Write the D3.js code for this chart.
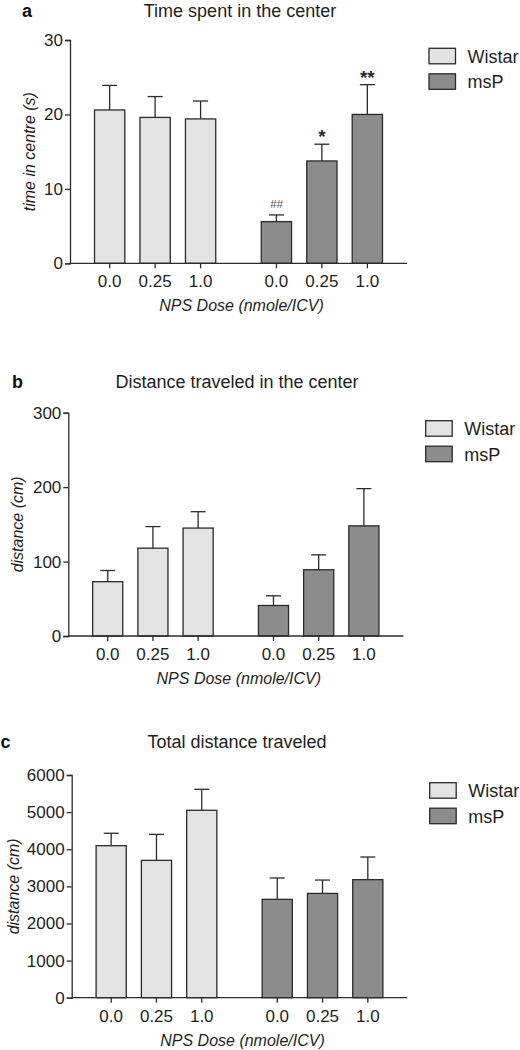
<!DOCTYPE html>
<html><head><meta charset="utf-8">
<script src="https://cdn.jsdelivr.net/npm/d3@7"></script>
<style>body{margin:0;background:#fff;} svg{display:block;font-family:Arial,"Liberation Sans",sans-serif;}</style>
</head><body>
<svg id="chart" width="520" height="1050"></svg>
<script>
const strains = ["Wistar", "msP"];
const doses = ["0.0", "0.25", "1.0"];
const colors = ["#e3e3e3", "#8c8c8c"];

// Panel a: time in centre (s)
const timeWistar = [20.6, 19.6, 19.4];
const timeWistarSem = [3.3, 2.8, 2.4];
const timeMsP = [5.6, 13.75, 20.0];
const timeMsPSem = [0.9, 2.25, 4.0];
const timeTicks = [0, 10, 20, 30];
const timeMarks = ["", "", "", "##", "*", "**"];

// Panel b: distance in centre (cm)
const centerWistar = [73, 118, 145];
const centerWistarSem = [15, 29, 22];
const centerMsP = [41, 89, 148];
const centerMsPSem = [13, 20, 50];
const centerTicks = [0, 100, 200, 300];

// Panel c: total distance (cm)
const totalWistar = [4095, 3700, 5050];
const totalWistarSem = [335, 700, 565];
const totalMsP = [2650, 2810, 3180];
const totalMsPSem = [575, 360, 610];
const totalTicks = [0, 1000, 2000, 3000, 4000, 5000, 6000];

const svg = d3.select("#chart");
const ink = "#2b2b2b";

function panel(cfg) {
  const g = svg.append("g");
  const x0 = cfg.left, x1 = cfg.right;
  const outer = d3.scaleBand().domain(strains).range([x0, x1]).paddingInner(0.273).paddingOuter(0.147);
  const inner = d3.scaleBand().domain(doses).range([0, outer.bandwidth()]).paddingInner(0.334).paddingOuter(0);
  const y = d3.scaleLinear().domain([0, cfg.max]).range([cfg.bottom, cfg.top]);

  const rows = [];
  strains.forEach((s, si) => {
    doses.forEach((d, di) => {
      rows.push({strain: s, dose: d, si, mean: cfg.means[si][di], sem: cfg.sems[si][di], mark: cfg.marks ? cfg.marks[si*3+di] : ""});
    });
  });

  g.selectAll("rect.bar").data(rows).join("rect")
    .attr("x", d => outer(d.strain) + inner(d.dose))
    .attr("y", d => y(d.mean))
    .attr("width", inner.bandwidth())
    .attr("height", d => y(0) - y(d.mean))
    .attr("fill", d => colors[d.si])
    .attr("stroke", ink).attr("stroke-width", 1.3);

  const cx = d => outer(d.strain) + inner(d.dose) + inner.bandwidth()/2;
  g.selectAll("line.err").data(rows).join("line")
    .attr("x1", cx).attr("x2", cx)
    .attr("y1", d => y(d.mean)).attr("y2", d => y(d.mean + d.sem))
    .attr("stroke", ink).attr("stroke-width", 1.3);
  g.selectAll("line.cap").data(rows).join("line")
    .attr("x1", d => cx(d) - 7.5).attr("x2", d => cx(d) + 7.5)
    .attr("y1", d => y(d.mean + d.sem)).attr("y2", d => y(d.mean + d.sem))
    .attr("stroke", ink).attr("stroke-width", 1.3);

  g.selectAll("text.mark").data(rows.filter(d => d.mark)).join("text")
    .attr("x", cx)
    .attr("y", d => y(d.mean + d.sem) - (d.mark[0] === "#" ? 7 : 1))
    .attr("text-anchor", "middle")
    .attr("font-size", d => d.mark[0] === "#" ? 11.5 : 19)
    .attr("font-style", d => d.mark[0] === "#" ? "italic" : "normal")
    .attr("font-weight", d => d.mark[0] === "#" ? "normal" : "bold")
    .attr("fill", d => d.mark[0] === "#" ? "#555" : ink)
    .text(d => d.mark);

  const ya = g.append("g").attr("transform", `translate(${x0},0)`)
    .call(d3.axisLeft(y).tickValues(cfg.ticks).tickSize(5).tickPadding(2).tickFormat(d3.format("d")));
  ya.select(".domain").attr("stroke", ink).attr("stroke-width", 1.3);
  ya.selectAll(".tick line").attr("stroke", ink).attr("stroke-width", 1.3);
  ya.selectAll(".tick text").attr("font-size", 17).attr("fill", "#1e1e1e").attr("font-family", "Arial, Liberation Sans, sans-serif");

  const xa = g.append("g").attr("transform", `translate(0,${cfg.bottom})`);
  xa.append("line").attr("x1", x0).attr("x2", x1).attr("y1", 0).attr("y2", 0).attr("stroke", ink).attr("stroke-width", 1.3);
  xa.selectAll("line.xt").data(rows).join("line")
    .attr("x1", cx).attr("x2", cx).attr("y1", 0).attr("y2", 5).attr("stroke", ink).attr("stroke-width", 1.3);
  xa.selectAll("text.xl").data(rows).join("text")
    .attr("x", cx).attr("y", 24).attr("text-anchor", "middle")
    .attr("font-size", 17).attr("fill", "#1e1e1e").text(d => d.dose);
  xa.append("text").attr("x", (x0 + x1) / 2 + 3).attr("y", 48).attr("text-anchor", "middle")
    .attr("font-size", 16).attr("font-style", "italic").attr("fill", "#1e1e1e").text("NPS Dose (nmole/ICV)");

  g.append("text").attr("transform", `translate(${cfg.ylabX},${(cfg.top + cfg.bottom) / 2}) rotate(-90)`)
    .attr("text-anchor", "middle").attr("dy", "0.35em")
    .attr("font-size", 16).attr("font-style", "italic").attr("fill", "#1e1e1e").text(cfg.ylabel);

  g.append("text").attr("x", cfg.titleX).attr("y", cfg.titleY).attr("text-anchor", "middle")
    .attr("font-size", 18).attr("fill", "#1e1e1e").text(cfg.title);
  g.append("text").attr("x", cfg.letterX).attr("y", cfg.titleY).attr("font-size", 18).attr("font-weight", "bold")
    .attr("fill", "#111").text(cfg.letter);

  const lg = g.append("g").attr("transform", `translate(${cfg.legX},${cfg.legY})`);
  strains.forEach((s, i) => {
    lg.append("rect").attr("x", 0).attr("y", i * 25.5).attr("width", 26.5).attr("height", 15.5)
      .attr("fill", colors[i]).attr("stroke", ink).attr("stroke-width", 1.3);
    lg.append("text").attr("x", 38.5).attr("y", i * 25.5 + 14.5).attr("font-size", 18).attr("fill", "#1e1e1e").text(s);
  });
}

panel({letter: "a", title: "Time spent in the center", titleX: 240, titleY: 17, letterX: 22,
  left: 70, right: 407, top: 40, bottom: 263.3, max: 30, ticks: timeTicks,
  means: [timeWistar, timeMsP], sems: [timeWistarSem, timeMsPSem], marks: timeMarks,
  ylabel: "time in centre (s)", ylabX: 29, legX: 429, legY: 48.3});

panel({letter: "b", title: "Distance traveled in the center", titleX: 237, titleY: 388, letterX: 12,
  left: 68.3, right: 403.3, top: 412.7, bottom: 636, max: 300, ticks: centerTicks,
  means: [centerWistar, centerMsP], sems: [centerWistarSem, centerMsPSem],
  ylabel: "distance (cm)", ylabX: 17, legX: 425.7, legY: 420.7});

panel({letter: "c", title: "Total distance traveled", titleX: 237, titleY: 748, letterX: 0.5,
  left: 71.7, right: 407.3, top: 775, bottom: 997.7, max: 6000, ticks: totalTicks,
  means: [totalWistar, totalMsP], sems: [totalWistarSem, totalMsPSem],
  ylabel: "distance (cm)", ylabX: 13, legX: 429.7, legY: 782.7});
</script>
</body></html>
